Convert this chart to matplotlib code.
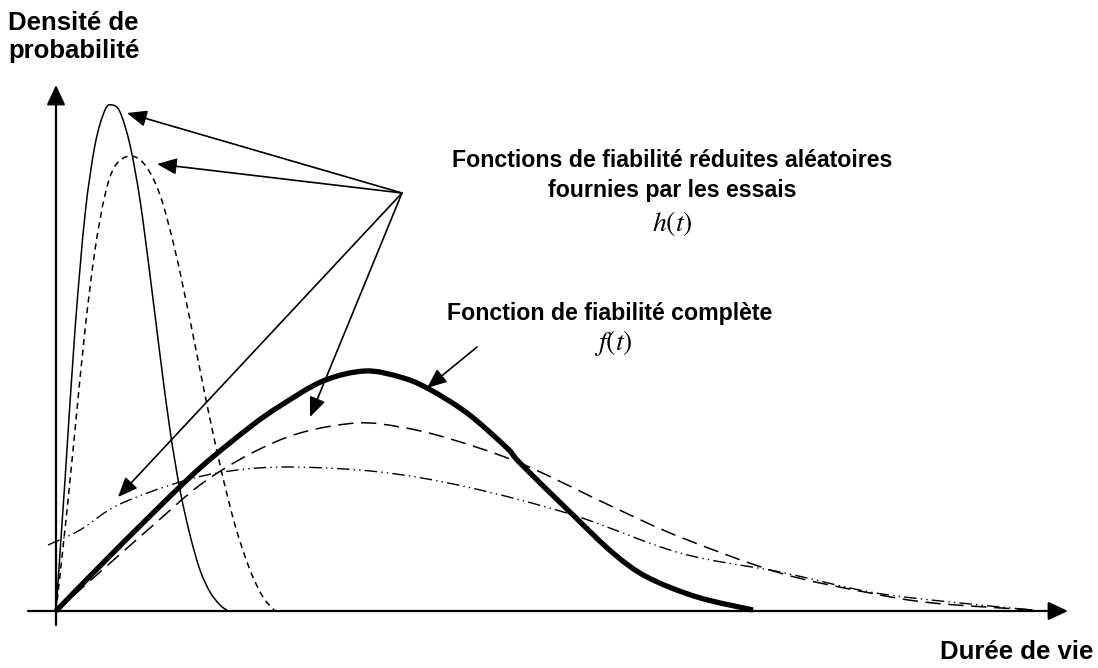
import numpy as np
import matplotlib
matplotlib.use("Agg")
import matplotlib.pyplot as plt
from matplotlib.path import Path
from matplotlib.patches import PathPatch

plt.rcParams['font.family'] = ['Liberation Sans', 'DejaVu Sans']
plt.rcParams['mathtext.fontset'] = 'stix'

# curves: t = durée de vie, d = densité (arbitrary units)
h1_t = [0.0, 0.09, 0.19, 0.29, 0.39, 0.49, 0.56, 0.64, 0.74,
        0.84, 0.94, 1.04, 1.14, 1.24, 1.34, 1.44, 1.54, 1.64, 1.72]
h1_d = [0.0, 1.31, 2.81, 3.96, 4.66, 5.01, 5.06, 4.99, 4.66,
        4.11, 3.36, 2.56, 1.81, 1.21, 0.76, 0.41, 0.19, 0.06, 0.0]

h2_t = [0.0, 0.10, 0.19, 0.29, 0.39, 0.49, 0.59, 0.74, 0.89, 1.04, 1.19, 1.34,
        1.49, 1.64, 1.79, 1.94, 2.07, 2.19]
h2_d = [0.0, 0.91, 1.81, 2.81, 3.61, 4.16, 4.45, 4.55, 4.46, 4.16, 3.61, 2.91,
        2.16, 1.46, 0.86, 0.41, 0.14, 0.0]

f_t = [0.0, 0.44, 0.94, 1.44, 1.94, 2.24, 2.67, 3.09, 3.44, 3.71, 4.11, 4.51, 4.64, 5.17,
       5.57, 5.91, 6.41, 6.97]
f_d = [0.0, 0.45, 0.95, 1.43, 1.84, 2.05, 2.30, 2.40, 2.34, 2.23, 1.98, 1.63, 1.48, 0.96,
       0.58, 0.34, 0.14, 0.01]

h3_t = [0.0, 0.44, 0.94, 1.44, 1.94, 2.44, 3.01, 3.44, 3.91, 4.64, 5.57, 6.24, 7.24,
        8.14, 8.77, 9.77]
h3_d = [0.0, 0.39, 0.83, 1.26, 1.57, 1.78, 1.88, 1.84, 1.73, 1.48, 1.04, 0.74, 0.38,
        0.18, 0.08, 0.01]

h4_t = [-0.08, 0.24, 0.62, 1.24, 1.74, 2.34, 3.24, 4.11, 5.17, 6.24, 7.24, 8.14, 8.94, 9.77]
h4_d = [0.66, 0.81, 1.06, 1.29, 1.40, 1.44, 1.39, 1.24, 0.96, 0.58, 0.39, 0.19, 0.09, 0.01]

# annotation arrows
h_src = (3.46, 4.18)
h_targets = [(0.71, 4.98), (1.01, 4.47), (0.62, 1.14), (2.54, 1.94)]
f_src = (4.21, 2.64)
f_target = (3.71, 2.23)


def smooth_path(xs, ys):
    # Catmull-Rom through the read points, drawn as cubic Bezier segments
    pts = np.column_stack([xs, ys]).astype(float)
    verts = [pts[0]]
    codes = [Path.MOVETO]
    n = len(pts)
    for i in range(n - 1):
        p0 = pts[max(i - 1, 0)]
        p1 = pts[i]
        p2 = pts[i + 1]
        p3 = pts[min(i + 2, n - 1)]
        verts += [p1 + (p2 - p0) / 6.0, p2 - (p3 - p1) / 6.0, p2]
        codes += [Path.CURVE4] * 3
    return Path(verts, codes)


def draw_curve(ax, xs, ys, lw, ls='-'):
    patch = PathPatch(smooth_path(xs, ys), facecolor='none', edgecolor='black',
                      lw=lw, linestyle=ls, capstyle='butt', joinstyle='round')
    ax.add_patch(patch)


fig = plt.figure(figsize=(10.98, 6.68), dpi=100)
ax = fig.add_axes([0, 0, 1, 1])
ax.set_xlim(-0.56, 10.42)
ax.set_ylim(-0.57, 6.11)
ax.axis('off')

# axes with arrow heads
axis_kw = dict(arrowstyle='-|>,head_length=0.6,head_width=0.28', color='black',
               lw=1.6, mutation_scale=20, shrinkA=0, shrinkB=0)
ax.annotate('', xy=(10.12, 0), xytext=(-0.28, 0), arrowprops=axis_kw)
ax.annotate('', xy=(0, 5.26), xytext=(0, -0.14), arrowprops=axis_kw)

draw_curve(ax, h1_t, h1_d, 1.1)
draw_curve(ax, h2_t, h2_d, 1.1, (0, (4, 3)))
draw_curve(ax, h3_t, h3_d, 1.1, (0, (10, 5)))
draw_curve(ax, h4_t, h4_d, 1.0, (0, (9, 3, 1, 3, 1, 3)))
draw_curve(ax, f_t, f_d, 3.8)

pointer_kw = dict(arrowstyle='-|>,head_length=0.6,head_width=0.25', color='black',
                  lw=1.2, mutation_scale=20, shrinkA=0, shrinkB=0)
for tx, ty in h_targets:
    ax.annotate('', xy=(tx, ty), xytext=h_src, arrowprops=pointer_kw)
ax.annotate('', xy=f_target, xytext=f_src, arrowprops=pointer_kw)

# labels
fig.text(8 / 1098, 1 - 11 / 668, 'Densité de\nprobabilité', fontsize=18.5,
         fontweight='bold', ha='left', va='top', linespacing=1.2)
fig.text(1093 / 1098, 1 - 652 / 668, 'Durée de vie', fontsize=18.5,
         fontweight='bold', ha='right', va='center')

ax.text(6.16, 4.51, 'Fonctions de fiabilité réduites aléatoires', fontsize=16.7,
        fontweight='bold', ha='center', va='center')
ax.text(6.16, 4.21, 'fournies par les essais', fontsize=16.7,
        fontweight='bold', ha='center', va='center')
ax.text(6.16, 3.88, '$h(t)$', fontsize=20, ha='center', va='center')

ax.text(5.54, 2.98, 'Fonction de fiabilité complète', fontsize=16.7,
        fontweight='bold', ha='center', va='center')
ax.text(5.57, 2.68, '$f(t)$', fontsize=20, ha='center', va='center')

fig.savefig('out.png', dpi=100)
